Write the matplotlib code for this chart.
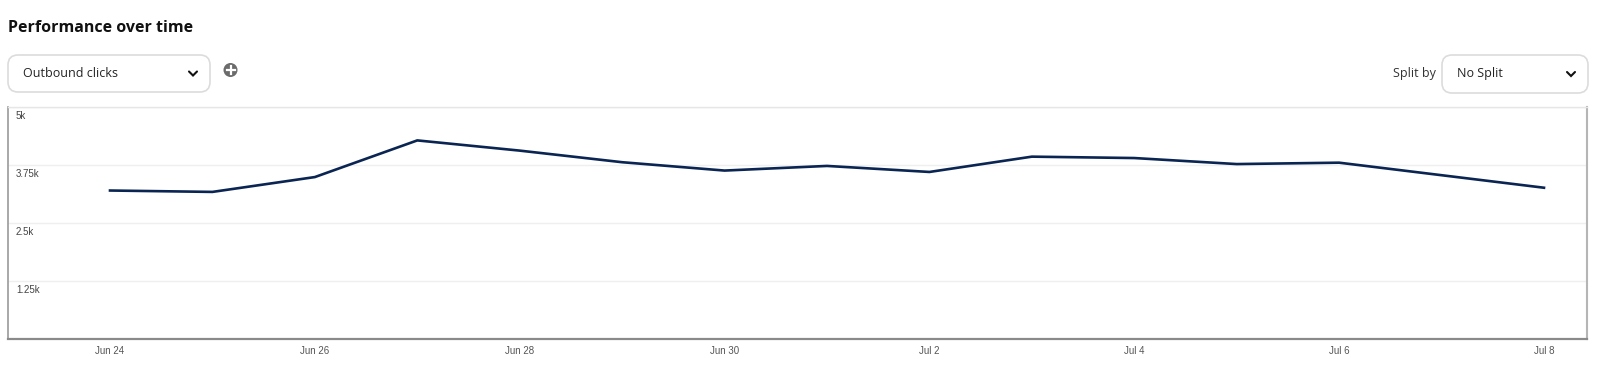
import matplotlib
matplotlib.use("Agg")
import matplotlib.pyplot as plt
from matplotlib.patches import FancyBboxPatch, Circle
import numpy as np

# ---------------- data ----------------
dates = ["Jun 24", "Jun 25", "Jun 26", "Jun 27", "Jun 28", "Jun 29", "Jun 30",
         "Jul 1", "Jul 2", "Jul 3", "Jul 4", "Jul 5", "Jul 6", "Jul 7", "Jul 8"]
outbound_clicks = [3200, 3170, 3490, 4280, 4060, 3810, 3630,
                   3730, 3600, 3930, 3900, 3770, 3800, 3530, 3260]
y_ticks = [1250, 2500, 3750, 5000]
y_tick_labels = ["1.25k", "2.5k", "3.75k", "5k"]
title = "Performance over time"
metric_label = "Outbound clicks"
split_label = "Split by"
split_value = "No Split"

W, H = 1600, 368
fig = plt.figure(figsize=(W / 100, H / 100), dpi=100)
fig.patch.set_facecolor("white")

FONT = ["Liberation Sans", "DejaVu Sans"]
UIFONT = ["Open Sans", "DejaVu Sans"]

# ---------------- overlay for UI chrome (pixel coords) ----------------
ui = fig.add_axes([0, 0, 1, 1], zorder=0)
ui.set_xlim(0, W)
ui.set_ylim(H, 0)
ui.axis("off")

ui.text(8, 28, title, fontsize=11.5, fontweight="bold", color="#111111",
        family=UIFONT, ha="left", va="center")

def dropdown(x0, x1, y0, y1, label, tx):
    box = FancyBboxPatch((x0, y0), x1 - x0, y1 - y0,
                         boxstyle="round,pad=0,rounding_size=10",
                         linewidth=1.2, edgecolor="#dcdcdc", facecolor="white")
    ui.add_patch(box)
    yc = (y0 + y1) / 2
    ui.text(tx, yc, label, fontsize=9, color="#222222", family=UIFONT,
            ha="left", va="center")
    cx = x1 - 17
    ui.plot([cx - 4, cx, cx + 4], [yc - 2, yc + 2, yc - 2],
            color="#111111", lw=1.5, solid_capstyle="round",
            solid_joinstyle="miter")

dropdown(8, 210, 55, 92, metric_label, 23)
dropdown(1442, 1588, 55, 93, split_value, 1457)
ui.text(1436, 74, split_label, fontsize=9, color="#333333", family=UIFONT,
        ha="right", va="center")

# plus icon
ui.add_patch(Circle((230.5, 70), 7, facecolor="#6b6b6b", edgecolor="none"))
ui.plot([226.5, 234.5], [70, 70], color="white", lw=1.6)
ui.plot([230.5, 230.5], [66, 74], color="white", lw=1.6)

# ---------------- main chart ----------------
left, right, top, bottom = 8, 1587, 107, 339
ax = fig.add_axes([left / W, (H - bottom) / H, (right - left) / W, (bottom - top) / H],
                  zorder=1)
x = np.arange(len(dates))
spacing = (1544 - 110) / (len(dates) - 1)
ax.set_xlim(-(110 - left) / spacing, (right - 110) / spacing)
ax.set_ylim(0, 5000)

for v in y_ticks:
    ax.axhline(v, color="#efefef", lw=1, zorder=0)
    ax.annotate(y_tick_labels[y_ticks.index(v)], xy=(0, v),
                xycoords=("axes fraction", "data"), xytext=(8, -4),
                textcoords="offset pixels", ha="left", va="top",
                fontsize=7, color="#444444", family=FONT)

ax.plot(x, outbound_clicks, color="#0b2553", lw=1.9, solid_joinstyle="round",
        zorder=3)

ax.set_yticks([])
ax.set_xticks(x[::2])
ax.set_xticklabels(dates[::2], fontsize=7, color="#555555", family=FONT)
ax.tick_params(axis="x", length=0, pad=5)

ax.spines["top"].set_color("#e6e6e6")
ax.spines["top"].set_linewidth(1)
ax.spines["left"].set_color("#9a9a9a")
ax.spines["left"].set_linewidth(1.2)
ax.spines["right"].set_color("#b5b5b5")
ax.spines["right"].set_linewidth(1.5)
ax.spines["bottom"].set_color("#8a8a8a")
ax.spines["bottom"].set_linewidth(1.6)
ax.set_facecolor("white")

fig.savefig("out.png", dpi=100, facecolor="white")
